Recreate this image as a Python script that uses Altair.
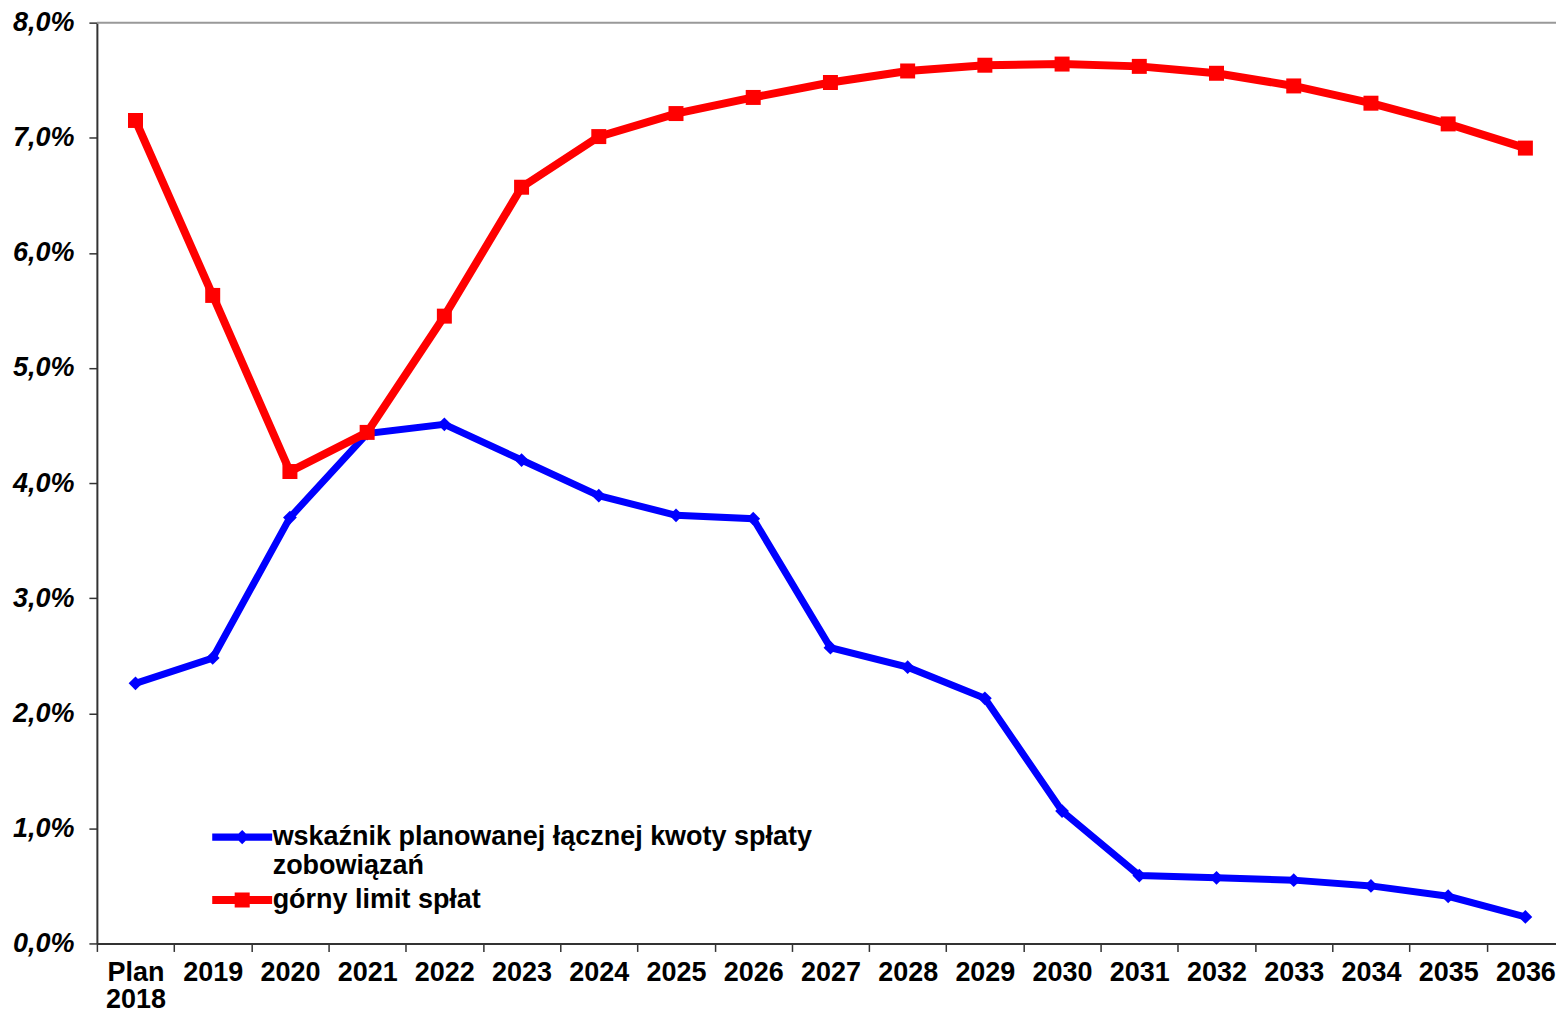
import altair as alt
import pandas as pd

categories = ["Plan 2018", "2019", "2020", "2021", "2022", "2023", "2024", "2025", "2026",
              "2027", "2028", "2029", "2030", "2031", "2032", "2033", "2034", "2035", "2036"]
wskaznik = [2.26, 2.48, 3.70, 4.43, 4.51, 4.20, 3.89, 3.72, 3.69, 2.57, 2.40, 2.13,
            1.15, 0.59, 0.57, 0.55, 0.50, 0.41, 0.23]
limit = [7.15, 5.63, 4.10, 4.44, 5.45, 6.57, 7.01, 7.21, 7.35, 7.48, 7.58, 7.63,
         7.64, 7.62, 7.56, 7.45, 7.30, 7.12, 6.91]
series_names = ["wskaźnik planowanej łącznej kwoty spłaty zobowiązań", "górny limit spłat"]
series_colors = ["#0000ff", "#ff0000"]

rows = []
for c, v in zip(categories, wskaznik):
    rows.append({"cat": c, "series": series_names[0], "value": v})
for c, v in zip(categories, limit):
    rows.append({"cat": c, "series": series_names[1], "value": v})
df = pd.DataFrame(rows)

W = 1469
H = 922
FONT = "Liberation Sans"
FS = 27

x = alt.X("cat:O", sort=categories,
          scale=alt.Scale(type="band", paddingInner=0, paddingOuter=0),
          axis=alt.Axis(title=None, labelAngle=0, labelExpr="split(datum.label, ' ')",
                        tickBand="extent", labelFont=FONT, labelFontSize=FS,
                        labelFontWeight="bold", labelColor="black", tickSize=8,
                        labelPadding=8, labelLineHeight=27, domainColor="#333333",
                        domainWidth=2, tickColor="#333333", tickWidth=1.5, grid=False))
y = alt.Y("value:Q", scale=alt.Scale(domain=[0, 8], nice=False),
          axis=alt.Axis(title=None, values=list(range(9)),
                        labelExpr="replace(format(datum.value, '.1f'), '.', ',') + '%'",
                        labelFont=FONT, labelFontSize=FS, labelFontWeight="bold",
                        labelFontStyle="italic", labelColor="black", tickSize=8,
                        labelPadding=15, domainColor="#333333", domainWidth=2,
                        tickColor="#333333", tickWidth=1.5, grid=False))

# legend symbols: a 60px line with the series marker in the middle (unit = 8px)
red_path = "M-3.75,-0.5H3.75V0.5H-3.75Z M-0.94,-0.94H0.94V0.94H-0.94Z"
blue_path = "M-3.75,-0.45H3.75V0.45H-3.75Z M0,-0.9L0.9,0L0,0.9L-0.9,0Z"
is_red = "datum.value == '" + series_names[1] + "'"

legend = alt.Legend(
    title=None, orient="none", legendX=132, legendY=802, direction="vertical",
    symbolSize=256, labelFont=FONT, labelFontSize=FS, labelFontWeight="bold",
    labelColor="black", labelLimit=900, labelOffset=17, padding=0, rowPadding=6,
    symbolType=alt.ExprRef(expr=is_red + " ? '" + red_path + "' : '" + blue_path + "'"),
    symbolFillColor=alt.ExprRef(expr=is_red + " ? '#ff0000' : '#0000ff'"),
    symbolStrokeWidth=0,
    labelExpr="datum.label == '" + series_names[0] + "' ? ['wskaźnik planowanej łącznej kwoty spłaty', 'zobowiązań'] : datum.label",
)
color = alt.Color("series:N", scale=alt.Scale(domain=series_names, range=series_colors), legend=legend)

base = alt.Chart(df)
blue = base.transform_filter(alt.datum.series == series_names[0])
red = base.transform_filter(alt.datum.series == series_names[1])

top_rule = alt.Chart(pd.DataFrame({"v": [8]})).mark_rule(color="#999999", strokeWidth=2).encode(
    y=alt.Y("v:Q"), x=alt.value(0), x2=alt.value(W))

blue_line = blue.mark_line(strokeWidth=7).encode(x=x, y=y, color=color)
blue_pts = blue.mark_point(shape="diamond", filled=True, size=190, opacity=1, color="#0000ff").encode(x=x, y=y)
red_line = red.mark_line(strokeWidth=8).encode(x=x, y=y, color=color)
red_pts = red.mark_point(shape="square", filled=True, size=225, opacity=1, color="#ff0000").encode(x=x, y=y)

chart = alt.layer(top_rule, blue_line, blue_pts, red_line, red_pts).properties(
    width=W, height=H, padding={"left": 4, "top": 0, "right": -9, "bottom": 0},
    background="white"
).configure_view(strokeWidth=0)

chart.save("out.html", embed_options={"renderer": "svg", "actions": False})
